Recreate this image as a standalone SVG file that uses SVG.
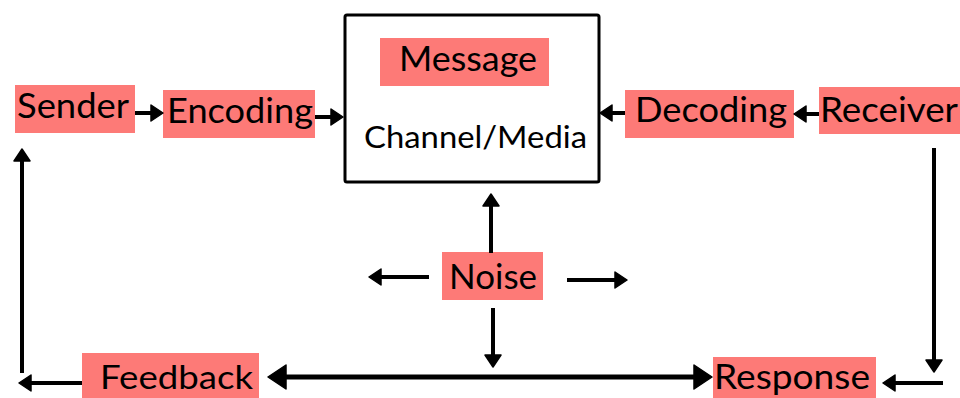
<svg xmlns="http://www.w3.org/2000/svg" width="960" height="398" viewBox="0 0 960 398">
<style>
.box{fill:#fd7a77;}
.t{font-family:Lato,"Open Sans","Liberation Sans",sans-serif;font-weight:400;fill:#000;}
.c{stroke:#000;stroke-width:4;fill:none;marker-end:url(#a);}
.big{stroke:#000;stroke-width:5;fill:none;marker-start:url(#b);marker-end:url(#b);}
</style>
<defs>
<marker id="a" markerUnits="userSpaceOnUse" viewBox="0 0 14 18" refX="8" refY="9" markerWidth="14" markerHeight="18" orient="auto">
<path d="M1,1 L13,9 L1,17 Z" fill="#000" stroke="#000" stroke-width="1.5" stroke-linejoin="round"/>
</marker>
<marker id="b" markerUnits="userSpaceOnUse" viewBox="0 0 20 26" refX="12" refY="13" markerWidth="20" markerHeight="26" orient="auto-start-reverse">
<path d="M1,1 L19,13 L1,25 Z" fill="#000" stroke="#000" stroke-width="1.5" stroke-linejoin="round"/>
</marker>
</defs>
<rect width="960" height="398" fill="#fff"/>
<g id="channel">
<rect x="345" y="15" width="254" height="167" rx="2" fill="#fff" stroke="#000" stroke-width="3"/>
<text class="t" x="364" y="148" font-size="30" textLength="223" lengthAdjust="spacingAndGlyphs">Channel/Media</text>
</g>
<g id="message">
<rect class="box" x="380" y="38" width="169" height="48"/>
<text class="t" x="399" y="71" font-size="34" textLength="138" lengthAdjust="spacingAndGlyphs">Message</text>
</g>
<g id="sender">
<rect class="box" x="15" y="85" width="120" height="48"/>
<text class="t" x="17" y="118" font-size="35" textLength="112" lengthAdjust="spacingAndGlyphs">Sender</text>
</g>
<g id="encoding">
<rect class="box" x="163" y="90" width="152" height="48"/>
<text class="t" x="167" y="123" font-size="34" textLength="146" lengthAdjust="spacingAndGlyphs">Encoding</text>
</g>
<g id="decoding">
<rect class="box" x="625" y="90" width="169" height="48"/>
<text class="t" x="635" y="122" font-size="34" textLength="152" lengthAdjust="spacingAndGlyphs">Decoding</text>
</g>
<g id="receiver">
<rect class="box" x="819" y="87" width="141" height="47"/>
<text class="t" x="820" y="122" font-size="34" textLength="138" lengthAdjust="spacingAndGlyphs">Receiver</text>
</g>
<g id="noise">
<rect class="box" x="442" y="252" width="101" height="48"/>
<text class="t" x="449" y="289" font-size="35" textLength="88" lengthAdjust="spacingAndGlyphs">Noise</text>
</g>
<g id="feedback">
<rect class="box" x="82" y="353" width="177" height="45"/>
<text class="t" x="100" y="389" font-size="33" textLength="153" lengthAdjust="spacingAndGlyphs">Feedback</text>
</g>
<g id="response">
<rect class="box" x="713" y="357" width="163" height="41"/>
<text class="t" x="714" y="389" font-size="34" textLength="156" lengthAdjust="spacingAndGlyphs">Response</text>
</g>
<g id="connectors">
<line class="c" x1="135" y1="113" x2="158" y2="113"/>
<line class="c" x1="315" y1="117" x2="338" y2="117"/>
<line class="c" x1="819" y1="114" x2="799" y2="114"/>
<line class="c" x1="625" y1="113" x2="605" y2="113"/>
<line class="c" x1="934" y1="148" x2="934" y2="367"/>
<line class="c" x1="943" y1="383" x2="888" y2="383"/>
<line class="big" x1="275" y1="377" x2="705" y2="377"/>
<line class="c" x1="82" y1="383" x2="24" y2="383"/>
<line class="c" x1="22" y1="373" x2="22" y2="154"/>
<line class="c" x1="491" y1="253" x2="491" y2="199"/>
<line class="c" x1="493" y1="308" x2="493" y2="362"/>
<line class="c" x1="429" y1="277" x2="374" y2="277"/>
<line class="c" x1="567" y1="280" x2="622" y2="280"/>
</g>
</svg>
